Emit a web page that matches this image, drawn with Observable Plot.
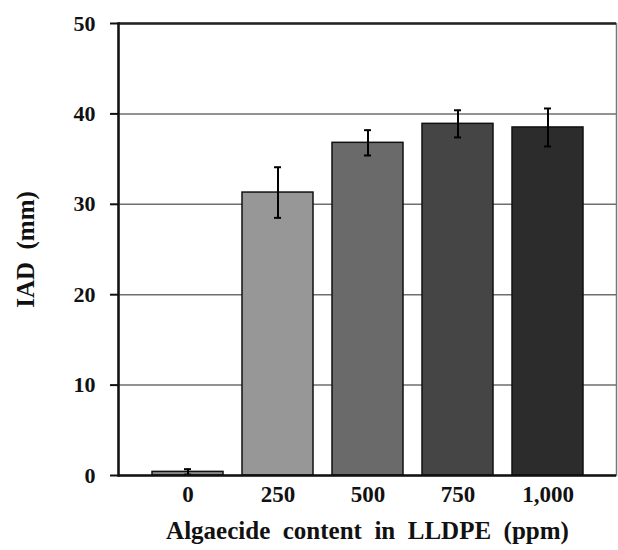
<!DOCTYPE html>
<html>
<head>
<meta charset="utf-8">
<script src="https://cdn.jsdelivr.net/npm/d3@7"></script>
<script src="https://cdn.jsdelivr.net/npm/@observablehq/plot@0.6"></script>
<style>
  html, body { margin: 0; padding: 0; background: #fff; }
  #chart svg { display: block; }
</style>
</head>
<body>
<div id="chart"></div>
<script>
const categories = ["0", "250", "500", "750", "1,000"];
const values = [0.4, 31.3, 36.8, 38.9, 38.5];
const errors = [0.3, 2.8, 1.4, 1.5, 2.1];
const fills = ["#8a8a8a", "#979797", "#6a6a6a", "#454545", "#2c2c2c"];
const yTicks = [0, 10, 20, 30, 40, 50];
const gridTicks = [10, 20, 30, 40];

const data = categories.map((c, i) => ({
  cat: c, v: values[i], lo: values[i] - errors[i], hi: values[i] + errors[i], fill: fills[i]
}));

const font = "'Liberation Serif', 'Times New Roman', serif";

const chart = Plot.plot({
  width: 618,
  height: 550,
  marginLeft: 118,
  marginRight: 2,
  marginTop: 23,
  marginBottom: 75,
  style: { fontFamily: font, fontWeight: "bold", background: "#fff", color: "#111" },
  x: { domain: categories, paddingInner: 0.215, paddingOuter: 0.36 },
  y: { domain: [0, 50] },
  marks: [
    Plot.frame({ stroke: "#777", strokeWidth: 1.5 }),
    Plot.ruleY(gridTicks, { stroke: "#6e6e6e", strokeWidth: 1.5 }),
    Plot.ruleY([50], { stroke: "#222", strokeWidth: 2.5 }),
    Plot.barY(data, { x: "cat", y: "v", fill: "fill", stroke: "#111", strokeWidth: 1.5 }),
    Plot.ruleX(data, { x: "cat", y1: "lo", y2: "hi", stroke: "#000", strokeWidth: 2 }),
    Plot.tickY(data, { x: "cat", y: "hi", stroke: "#000", strokeWidth: 2, inset: 32 }),
    Plot.tickY(data, { x: "cat", y: "lo", stroke: "#000", strokeWidth: 2, inset: 32 }),
    Plot.frame({ anchor: "left", stroke: "#111", strokeWidth: 2.5 }),
    Plot.ruleY([0], { stroke: "#111", strokeWidth: 2.5 }),
    Plot.axisY({
      ticks: yTicks, tickSize: 8, tickPadding: 15, strokeWidth: 2,
      fontSize: 22, label: "IAD  (mm)", labelAnchor: "center", labelArrow: "none", labelOffset: 102
    }),
    Plot.axisX({
      tickSize: 0, tickPadding: 10, fontSize: 23,
      label: "Algaecide  content  in  LLDPE  (ppm)", labelAnchor: "center", labelArrow: "none", labelOffset: 63
    })
  ]
});
chart.querySelectorAll("g[aria-label='y-axis label'] text, g[aria-label='x-axis label'] text").forEach(t => {
  t.setAttribute("font-size", "25");
  t.style.fontSize = "25px";
});
document.getElementById("chart").appendChild(chart);
</script>
</body>
</html>
